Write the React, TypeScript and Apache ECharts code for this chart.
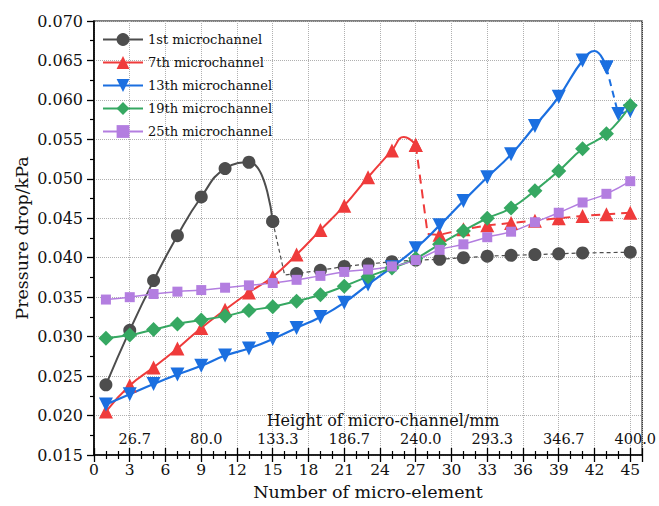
import React, { useEffect, useRef } from 'react';
import * as echarts from 'echarts';

const FONT = '"DejaVu Serif", serif';

// ---- data ----
const names = ['1st microchannel', '7th microchannel', '13th microchannel', '19th microchannel', '25th microchannel'];

const ch1SolidX = [1, 3, 5, 7, 9, 11, 13, 15];
const ch1SolidY = [0.0239, 0.0308, 0.0371, 0.0428, 0.0477, 0.0513, 0.0521, 0.0446];
const ch1SolidNoMarkerX: number[] = [];
const ch1DashX = [15, 16, 17, 19, 21, 23, 25, 27, 29, 31, 33, 35, 37, 39, 41, 45];
const ch1DashY = [0.0446, 0.0378, 0.0380, 0.0384, 0.0389, 0.0392, 0.0395, 0.0397, 0.0398, 0.0400, 0.0402, 0.0403, 0.0404, 0.0405, 0.0406, 0.0407];
const ch1NoMarkerX = [16];

// x = 26 is the unmarked apex of the curve as drawn
const ch7SolidX = [1, 3, 5, 7, 9, 11, 13, 15, 17, 19, 21, 23, 25, 26, 27];
const ch7SolidY = [0.0205, 0.0238, 0.0261, 0.0285, 0.0311, 0.0334, 0.0356, 0.0376, 0.0404, 0.0435, 0.0466, 0.0502, 0.0536, 0.0553, 0.0543];
const ch7SolidNoMarkerX = [26];
const ch7DashX = [27, 28, 29, 31, 33, 35, 37, 39, 41, 43, 45];
const ch7DashY = [0.0543, 0.0430, 0.0429, 0.0436, 0.0441, 0.0444, 0.0447, 0.0450, 0.0453, 0.0455, 0.0457];
const ch7NoMarkerX = [28];

// x = 42 is the unmarked apex of the curve as drawn
const ch13SolidX = [1, 3, 5, 7, 9, 11, 13, 15, 17, 19, 21, 23, 25, 27, 29, 31, 33, 35, 37, 39, 41, 42, 43];
const ch13SolidY = [0.0214, 0.0227, 0.0240, 0.0252, 0.0263, 0.0276, 0.0285, 0.0297, 0.0311, 0.0325, 0.0343, 0.0366, 0.0388, 0.0412, 0.0441, 0.0472, 0.0502, 0.0531, 0.0567, 0.0604, 0.0650, 0.0662, 0.0641];
const ch13SolidNoMarkerX = [42];
const ch13DashX = [43, 44, 45];
const ch13DashY = [0.0641, 0.0582, 0.0586];
const ch13NoMarkerX: number[] = [];

const oddX = [1, 3, 5, 7, 9, 11, 13, 15, 17, 19, 21, 23, 25, 27, 29, 31, 33, 35, 37, 39, 41, 43, 45];
const ch19Y = [0.0298, 0.0302, 0.0309, 0.0316, 0.0321, 0.0326, 0.0333, 0.0338, 0.0345, 0.0353, 0.0364, 0.0376, 0.0387, 0.0399, 0.0417, 0.0434, 0.0450, 0.0463, 0.0485, 0.0510, 0.0538, 0.0557, 0.0593];
const ch25Y = [0.0347, 0.0350, 0.0354, 0.0357, 0.0359, 0.0362, 0.0365, 0.0368, 0.0372, 0.0377, 0.0382, 0.0385, 0.0389, 0.0397, 0.0410, 0.0417, 0.0426, 0.0433, 0.0445, 0.0457, 0.0470, 0.0481, 0.0497];

const heightTickX = [3, 9, 15, 21, 27, 33, 39, 45];
const heightLabels = ['26.7', '80.0', '133.3', '186.7', '240.0', '293.3', '346.7', '400.0'];

// ---- styles ----
const GRAY = '#4d4d4d';
const RED = '#ef3b3b';
const BLUE = '#1b6fe0';
const GREEN = '#36a862';
const PURPLE = '#b37ee0';

const items = (xs: number[], ys: number[], noMarker: number[]) =>
  xs.map((x, i) => (noMarker.indexOf(x) >= 0 ? { value: [x, ys[i]], symbol: 'none' } : { value: [x, ys[i]] }));

function solidSeries(name: string, xs: number[], ys: number[], noMarker: number[], color: string, symbol: string, size: number, rotate: number, width: number) {
  return {
    type: 'line',
    name,
    data: items(xs, ys, noMarker),
    smooth: 0.5,
    symbol,
    symbolSize: size,
    symbolRotate: rotate,
    lineStyle: { color, width },
    itemStyle: { color },
    silent: true,
  };
}

function dashSeries(name: string, xs: number[], ys: number[], noMarker: number[], color: string, symbol: string, size: number, rotate: number, width: number, dash: number[]) {
  return {
    type: 'line',
    name: name + ' (after)',
    data: items(xs, ys, noMarker),
    smooth: false,
    symbol,
    symbolSize: size,
    symbolRotate: rotate,
    lineStyle: { color, width, type: dash },
    itemStyle: { color },
    silent: true,
  };
}

const option: any = {
  animation: false,
  backgroundColor: '#fff',
  grid: { left: 94, right: 9, top: 21, bottom: 51, show: true, borderColor: '#000', borderWidth: 1.2, containLabel: false },
  legend: {
    data: names,
    orient: 'vertical',
    left: 102,
    top: 33,
    padding: 0,
    itemWidth: 40,
    itemHeight: 16,
    itemGap: 10,
    textStyle: { fontFamily: FONT, fontSize: 13, color: '#111' },
  },
  xAxis: [
    {
      type: 'value',
      min: 0,
      max: 46,
      interval: 3,
      position: 'bottom',
      name: 'Number of micro-element',
      nameLocation: 'middle',
      nameGap: 28,
      nameMoveOverlap: false,
      nameTextStyle: { fontFamily: FONT, fontSize: 17.5, color: '#111' },
      axisLine: { onZero: false, lineStyle: { color: '#000', width: 1.6 } },
      axisTick: { show: true, inside: false, length: 7, lineStyle: { color: '#000', width: 1.3 } },
      minorTick: { show: true, splitNumber: 3, length: 4, lineStyle: { color: '#000', width: 1.2 } },
      axisLabel: {
        margin: 7,
        fontFamily: FONT,
        fontSize: 15.5,
        color: '#111',
        formatter: (v: number) => (v % 3 === 0 && v <= 45 ? String(v) : ''),
      },
      splitLine: { show: true, lineStyle: { type: 'dotted', color: '#b0b0b0', width: 1 } },
    },
    {
      type: 'value',
      min: 0,
      max: 46,
      interval: 3,
      position: 'bottom',
      name: 'Height of micro-channel/mm',
      nameLocation: 'middle',
      nameGap: -43,
      nameMoveOverlap: false,
      nameTextStyle: { fontFamily: FONT, fontSize: 16, color: '#111', padding: [0, 0, 0, 30] },
      axisLine: { show: false, onZero: false },
      axisTick: { show: true, inside: true, length: 7, lineStyle: { color: '#000', width: 1.3 } },
      minorTick: { show: true, splitNumber: 3, length: 4, lineStyle: { color: '#000', width: 1.2 } },
      axisLabel: {
        inside: true,
        margin: 9,
        fontFamily: FONT,
        fontSize: 14.5,
        color: '#111',
        padding: [0, 0, 0, 10],
        formatter: (v: number) => {
          const i = heightTickX.indexOf(v);
          return i >= 0 ? heightLabels[i] : '';
        },
      },
      splitLine: { show: false },
    },
  ],
  yAxis: {
    type: 'value',
    min: 0.015,
    max: 0.07,
    interval: 0.005,
    name: 'Pressure drop/kPa',
    nameLocation: 'middle',
    nameGap: 63,
    nameMoveOverlap: false,
    nameTextStyle: { fontFamily: FONT, fontSize: 17.5, color: '#111' },
    axisLine: { show: true, onZero: false, lineStyle: { color: '#000', width: 1.6 } },
    axisTick: { show: true, inside: false, length: 7, lineStyle: { color: '#000', width: 1.3 } },
    minorTick: { show: true, splitNumber: 2, length: 4, lineStyle: { color: '#000', width: 1.2 } },
    axisLabel: {
      margin: 11,
      fontFamily: FONT,
      fontSize: 16,
      color: '#111',
      formatter: (v: number) => v.toFixed(3),
    },
    splitLine: { show: true, lineStyle: { type: 'dotted', color: '#b0b0b0', width: 1 } },
  },
  series: [
    solidSeries(names[0], ch1SolidX, ch1SolidY, ch1SolidNoMarkerX, GRAY, 'circle', 13, 0, 2),
    dashSeries(names[0], ch1DashX, ch1DashY, ch1NoMarkerX, GRAY, 'circle', 13, 0, 1.2, [4, 3]),
    solidSeries(names[1], ch7SolidX, ch7SolidY, ch7SolidNoMarkerX, RED, 'triangle', 14, 0, 2),
    dashSeries(names[1], ch7DashX, ch7DashY, ch7NoMarkerX, RED, 'triangle', 14, 0, 2, [9, 6]),
    solidSeries(names[2], ch13SolidX, ch13SolidY, ch13SolidNoMarkerX, BLUE, 'triangle', 14, 180, 2.2),
    dashSeries(names[2], ch13DashX, ch13DashY, ch13NoMarkerX, BLUE, 'triangle', 14, 180, 2, [7, 5]),
    solidSeries(names[3], oddX, ch19Y, [], GREEN, 'diamond', 15, 0, 2),
    solidSeries(names[4], oddX, ch25Y, [], PURPLE, 'rect', 10, 0, 1.5),
  ],
};

export default function App() {
  const ref = useRef<HTMLDivElement>(null);
  useEffect(() => {
    document.body.style.margin = '0';
    const chart = echarts.init(ref.current as HTMLDivElement, undefined, { renderer: 'svg' });
    chart.setOption(option);
    return () => chart.dispose();
  }, []);
  return <div ref={ref} style={{ width: 659, height: 506, background: '#fff' }} />;
}
